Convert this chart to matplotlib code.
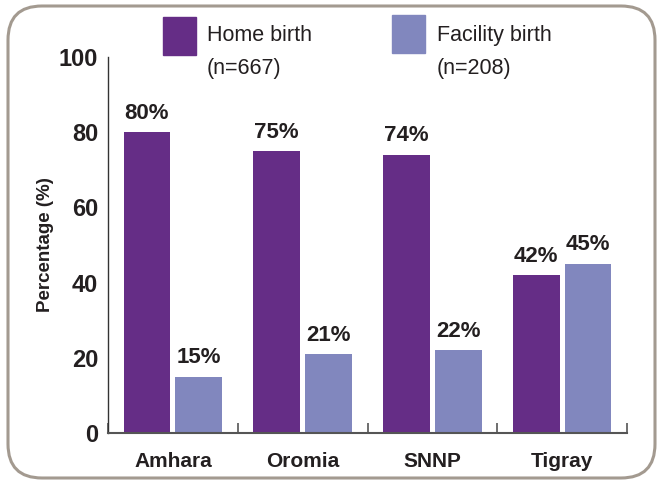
import matplotlib.pyplot as plt
from matplotlib.patches import FancyBboxPatch, Rectangle
from matplotlib.transforms import IdentityTransform

plt.rcParams['font.family'] = ['Liberation Sans Narrow', 'Liberation Sans', 'DejaVu Sans']

regions = ['Amhara', 'Oromia', 'SNNP', 'Tigray']
home = [80, 75, 74, 42]
facility = [15, 21, 22, 45]
home_label = ['Home birth', '(n=667)']
facility_label = ['Facility birth', '(n=208)']
yticks = [0, 20, 40, 60, 80, 100]

c_home = '#652d86'
c_fac = '#8187be'
txt = '#231f20'

fig = plt.figure(figsize=(6.59, 4.80), dpi=100)
ax = fig.add_axes([0.1639, 0.0979, 0.7876, 0.7833])

x = range(len(regions))
w = 0.36
off = 0.2
b1 = ax.bar([i - off for i in x], home, width=w, color=c_home)
b2 = ax.bar([i + off for i in x], facility, width=w, color=c_fac)

for bars, vals in ((b1, home), (b2, facility)):
    for r, v in zip(bars, vals):
        ax.annotate(f'{v}%', (r.get_x() + r.get_width() / 2, v),
                    xytext=(0, 6), textcoords='offset points',
                    ha='center', va='bottom', fontsize=16,
                    fontweight='bold', color=txt)

ax.set_xlim(-0.5, len(regions) - 0.5)
ax.set_ylim(0, 100)
ax.set_yticks(yticks)
ax.set_yticklabels([str(t) for t in yticks], fontsize=17, fontweight='bold', color=txt)
ax.tick_params(axis='y', length=0, pad=7)

# category dividers as small upward ticks on the baseline
ax.set_xticks([i - 0.5 for i in range(len(regions) + 1)])
ax.set_xticklabels([])
ax.tick_params(axis='x', direction='in', length=7, width=1.2, color='#555555')
for i, name in enumerate(regions):
    ax.text(i, -5, name, ha='center', va='top', fontsize=15,
            fontweight='bold', color=txt, transform=ax.transData)

for s in ('top', 'right'):
    ax.spines[s].set_visible(False)
ax.spines['left'].set_color('#333333')
ax.spines['left'].set_linewidth(1.0)
ax.spines['bottom'].set_color('#555555')
ax.spines['bottom'].set_linewidth(1.5)

ax.set_ylabel('Percentage (%)', fontsize=13.5, fontweight='bold', color=txt)
ax.yaxis.set_label_coords(-0.105, 0.5)

# legend drawn by hand in pixel space
px = IdentityTransform()
fig.patches.append(Rectangle((163, 480 - 55), 33, 38, color=c_home, transform=px))
fig.patches.append(Rectangle((392, 480 - 53), 33, 38, color=c_fac, transform=px))
for lx, lines in ((207, home_label), (437, facility_label)):
    for ly, line in zip((41, 74), lines):
        fig.text(lx / 659, 1 - ly / 480, line, ha='left', va='baseline',
                 fontsize=15.5, color=txt)

# rounded frame around the whole figure
fig.patches.append(FancyBboxPatch((8, 2), 647, 472,
                                  boxstyle='round,pad=0,rounding_size=34',
                                  fill=False, edgecolor='#a39a90', linewidth=2.2,
                                  transform=px))

fig.savefig('out.png', dpi=100)
